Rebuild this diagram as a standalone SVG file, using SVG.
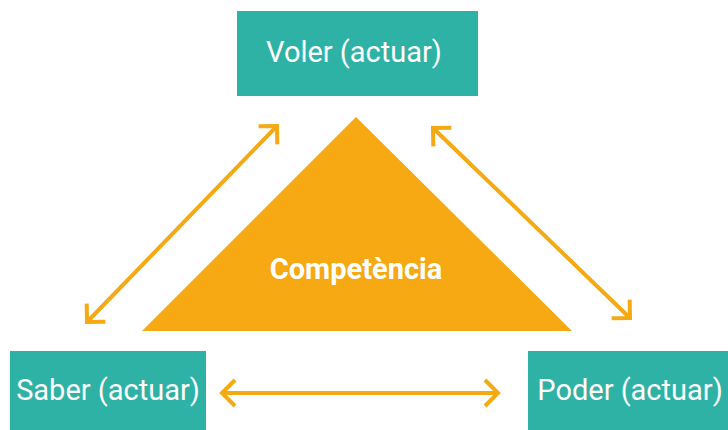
<svg xmlns="http://www.w3.org/2000/svg" width="728" height="430" viewBox="0 0 728 430">
<style>
.box{fill:#2EB2A5}
.lbl{font-family:Roboto,"Liberation Sans",sans-serif;font-size:29px;fill:#FFFFFF;text-anchor:middle}
.conn{stroke:#F6A913;stroke-width:4;fill:none}
</style>
<defs>
<marker id="ah" markerUnits="userSpaceOnUse" markerWidth="40" markerHeight="40" viewBox="-20 -20 40 40" refX="0" refY="0" orient="auto-start-reverse">
<path d="M -13,-13 L 0,0 L -13,13" fill="none" stroke="#F6A913" stroke-width="4"/>
</marker>
</defs>
<rect width="728" height="430" fill="#FFFFFF"/>
<g id="competencia">
<polygon points="356,117 572,331 142,331" fill="#F6A913"/>
<text x="356" y="279" font-family="Roboto,'Liberation Sans',sans-serif" font-size="29" font-weight="bold" fill="#FFFFFF" text-anchor="middle">Competència</text>
</g>
<g id="voler">
<rect class="box" x="237" y="11" width="241" height="85"/>
<text class="lbl" x="354" y="62">Voler (actuar)</text>
</g>
<g id="saber">
<rect class="box" x="10" y="351" width="196" height="85"/>
<text class="lbl" x="108" y="400">Saber (actuar)</text>
</g>
<g id="poder">
<rect class="box" x="528" y="351" width="210" height="85"/>
<text class="lbl" x="630" y="400">Poder (actuar)</text>
</g>
<g id="connectors">
<line class="conn" x1="87" y1="322" x2="277" y2="126" marker-start="url(#ah)" marker-end="url(#ah)"/>
<line class="conn" x1="433" y1="128" x2="630" y2="318" marker-start="url(#ah)" marker-end="url(#ah)"/>
<line class="conn" x1="222" y1="393" x2="498" y2="393" marker-start="url(#ah)" marker-end="url(#ah)"/>
</g>
</svg>
